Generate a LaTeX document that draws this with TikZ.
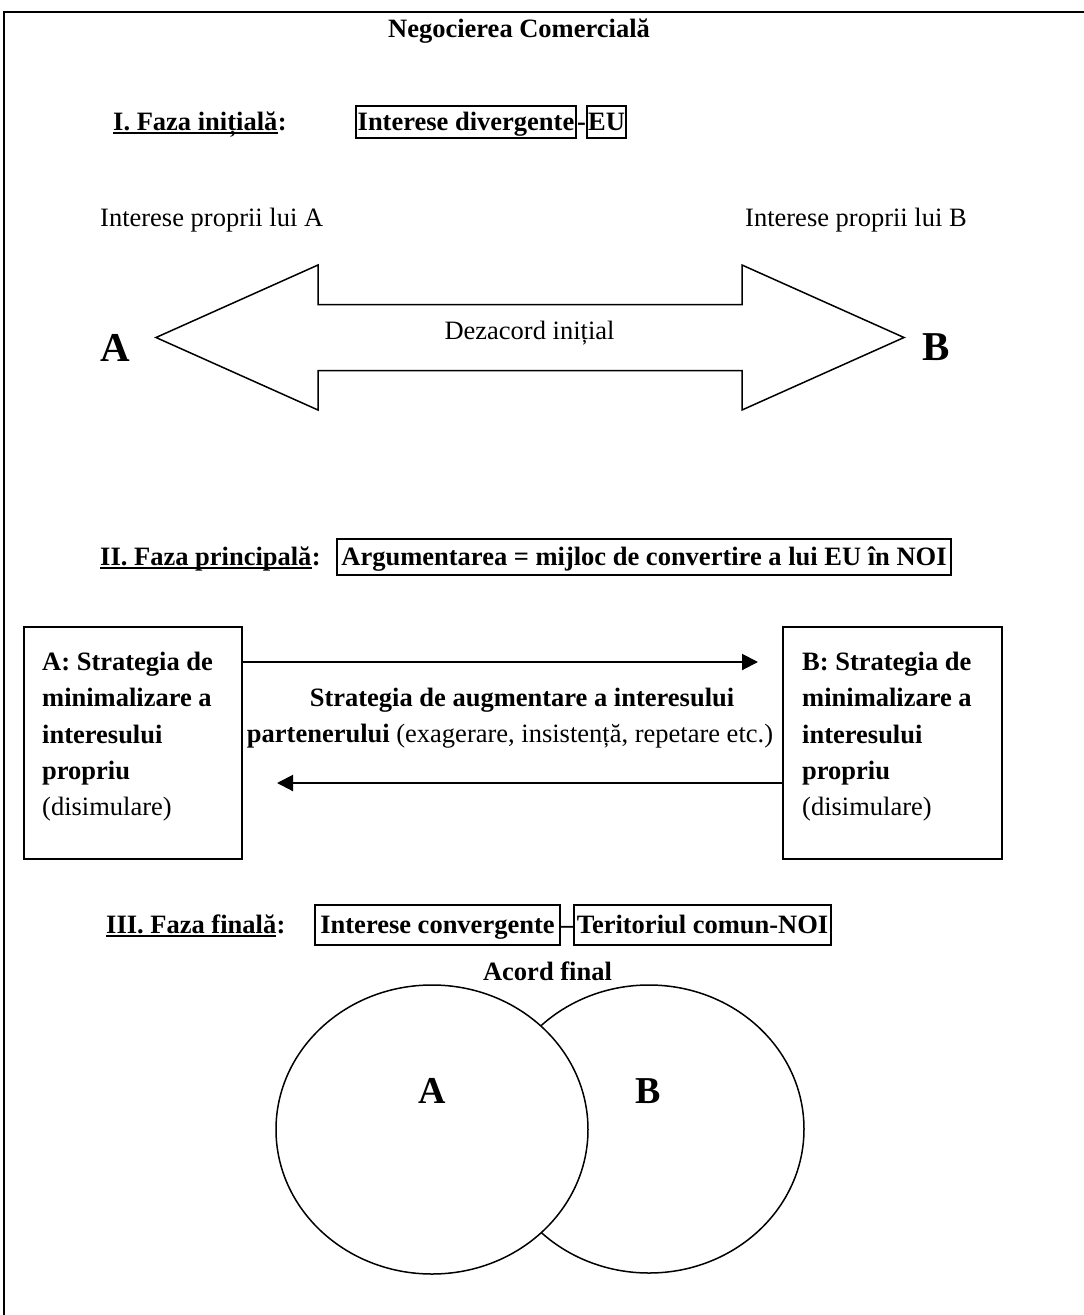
\documentclass[tikz,border=0pt]{standalone}
\usepackage{fontspec}
\setmainfont{Liberation Serif}
\usetikzlibrary{arrows.meta,shapes.geometric}
\begin{document}
\begin{tikzpicture}[x=1pt,y=-1pt,
  every node/.style={inner sep=0pt},
  rf/.style={font=\fontsize{26.5}{36.3}\selectfont},
  bf/.style={font=\fontsize{26.5}{36.3}\selectfont\bfseries},
  big/.style={font=\fontsize{41}{48}\selectfont\bfseries},
  bigE/.style={font=\fontsize{38}{44}\selectfont\bfseries},
  tbox/.style={draw, line width=2pt, bf, text height=21pt, text depth=5pt},
  sbox/.style={draw, line width=2pt},
  ulabel/.style={bf, anchor=base west},
  uline/.style={line width=2.5pt},
  arr/.style={line width=2pt, -{Triangle[length=16pt,width=16pt]}},
  thinline/.style={line width=1.5pt, line join=miter},
  venn/.style={ellipse, draw, line width=1.5pt}
]
\useasboundingbox (0,0) rectangle (1084,1315);
% frame
\draw[line width=2pt] (4,1315) -- (4,12);
\draw[line width=2.5pt] (3,12) -- (1084,12);

% title
\node[bf, anchor=base] (title) at (519,37) {Negocierea Comercială};

% Row I
\node[ulabel] (l1) at (113,130) {I. Faza inițială};
\node[bf, anchor=base west] (c1) at (l1.base east) {:};
\draw[uline] ([yshift=-3pt]l1.base west) -- ([yshift=-3pt]l1.base east);
\node[tbox, minimum width=220, minimum height=32] (div) at (466,122) {Interese divergente};
\node[bf, anchor=base] (h1) at (581.5,130) {-};
\node[tbox, minimum width=39, minimum height=32] (eu) at (606.5,122) {EU};

\node[rf, anchor=base west] (ia) at (100,226.7) {Interese proprii lui A};
\node[rf, anchor=base west] (ib) at (745,226.7) {Interese proprii lui B};

% double arrow
\draw[thinline] (156,337.5) -- (318,265) -- (318,304.5) -- (742,304.5) -- (742,265)
  -- (904,337.5) -- (742,410) -- (742,370.5) -- (318,370.5) -- (318,410) -- cycle;
\node[rf, anchor=base] (dez) at (529.5,339) {Dezacord inițial};
\node[big, anchor=base west] (bigA) at (100,361.5) {A};
\node[big, anchor=base west] (bigB) at (922,360) {B};

% Row II
\node[ulabel] (l2) at (100,565) {II. Faza principală};
\node[bf, anchor=base west] (c2) at (l2.base east) {:};
\draw[uline] ([yshift=-3pt]l2.base west) -- ([yshift=-3pt]l2.base east);
\node[tbox, minimum width=614, minimum height=36] (arg) at (644,557) {Argumentarea = mijloc de convertire a lui EU în NOI};

\node[sbox, minimum width=218, minimum height=232] (lbox) at (133,743) {};
\node[sbox, minimum width=219, minimum height=232] (rbox) at (892.5,743) {};
\node[rf, anchor=north west, align=left] (ltxt) at (42,652)
  {\textbf{A: Strategia de}\\\textbf{minimalizare a}\\\textbf{interesului}\\\textbf{propriu}\\(disimulare)};
\node[rf, anchor=north west, align=left] (rtxt) at (802,652)
  {\textbf{B: Strategia de}\\\textbf{minimalizare a}\\\textbf{interesului}\\\textbf{propriu}\\(disimulare)};

\node[bf, anchor=base] (m1) at (522,706) {Strategia de augmentare a interesului};
\node[rf, anchor=base] (m2) at (510,742.5) {\textbf{partenerului} (exagerare, insistență, repetare etc.)};

\coordinate (tipR) at (758,662);
\coordinate (tipL) at (277,783);
\draw[arr] (lbox.east |- tipR) -- (tipR);
\draw[arr] (rbox.west |- tipL) -- (tipL);

% Row III
\node[ulabel] (l3) at (106,933) {III. Faza finală};
\node[bf, anchor=base west] (c3) at (l3.base east) {:};
\draw[uline] ([yshift=-3pt]l3.base west) -- ([yshift=-3pt]l3.base east);
\node[tbox, minimum width=245, minimum height=40] (conv) at (437.5,925) {Interese convergente\ };
\node[bf, anchor=base] (d3) at (567,933) {–};
\node[tbox, minimum width=257, minimum height=40] (ter) at (702.5,925) {Teritoriul comun-NOI};

\node[bf, anchor=base] (acord) at (547.5,980) {Acord final};

% Venn
\node[venn, minimum width=310, minimum height=288] (eb) at (649,1129) {};
\node[venn, fill=white, minimum width=312, minimum height=289] (ea) at (432,1129.5) {};
\node[bigE, anchor=base] (lA) at (432,1103) {A};
\node[bigE, anchor=base] (lB) at (648,1103) {B};
\end{tikzpicture}
\end{document}
